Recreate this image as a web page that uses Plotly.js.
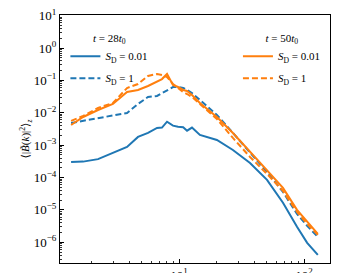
<!DOCTYPE html>
<html>
<head>
<meta charset="utf-8">
<script src="https://cdn.plot.ly/plotly-3.0.1.min.js"></script>
<style>html,body{margin:0;padding:0;background:#fff;}#chart{width:342px;height:273px;}</style>
</head>
<body>
<div id="chart"></div>
<script>
// wavenumbers k
const k = [1.37, 1.71, 2.25, 2.96, 3.84, 4.70, 5.65, 6.67, 7.31, 8.02, 8.95, 9.82, 10.8, 11.6, 12.7, 14.7, 20.1, 27.0, 37.0, 50.6, 67.9, 87.9, 106, 129];
// t = 28 t0, S_D = 0.01
const blueSolid = [3.0e-4, 3.1e-4, 3.7e-4, 5.7e-4, 8.8e-4, 1.8e-3, 2.4e-3, 3.4e-3, 3.5e-3, 5.3e-3, 4.0e-3, 3.7e-3, 3.6e-3, 2.8e-3, 3.5e-3, 2.07e-3, 1.45e-3, 7.1e-4, 2.8e-4, 8.5e-5, 1.66e-5, 3.0e-6, 9.6e-7, 4.1e-7];
// t = 28 t0, S_D = 1
const blueDashed = [0.00484, 0.00559, 0.00691, 0.00796, 0.00986, 0.0187, 0.0307, 0.0330, 0.0408, 0.0506, 0.0625, 0.0625, 0.0583, 0.0506, 0.0408, 0.0248, 0.00855, 0.00238, 5.74e-4, 1.49e-4, 3.59e-5, 7.53e-6, 3.21e-6, 1.47e-6];
// t = 50 t0, S_D = 0.01
const orangeSolid = [0.0042, 0.00741, 0.0122, 0.0187, 0.0438, 0.0506, 0.0671, 0.0893, 0.110, 0.158, 0.0721, 0.0625, 0.0506, 0.0471, 0.0354, 0.0201, 0.00741, 0.00238, 6.17e-4, 1.72e-4, 4.77e-5, 1.0e-5, 4.27e-6, 1.82e-6];
// t = 50 t0, S_D = 1
const orangeDashed = [0.00559, 0.00796, 0.0141, 0.0201, 0.0583, 0.0774, 0.137, 0.158, 0.147, 0.127, 0.0774, 0.0583, 0.0438, 0.0380, 0.0307, 0.0187, 0.00644, 0.00167, 4.32e-4, 1.29e-4, 3.86e-5, 8.67e-6, 3.70e-6, 1.69e-6];

// tick labels
const xTickVals = [10, 100];
const xTickText = ['10<sup>1</sup>', '10<sup>2</sup>'];
const yTickVals = [1e-6, 1e-5, 1e-4, 1e-3, 1e-2, 1e-1, 1, 10];
const yTickText = ['10<sup>−6</sup>', '10<sup>−5</sup>', '10<sup>−4</sup>', '10<sup>−3</sup>', '10<sup>−2</sup>', '10<sup>−1</sup>', '10<sup>0</sup>', '10<sup>1</sup>'];

const legendNames = ['<i>S</i><sub>D</sub> = 0.01', '<i>S</i><sub>D</sub> = 1'];
const legendTitles = ['<i>t</i> = 28<i>t</i><sub>0</sub>', '<i>t</i> = 50<i>t</i><sub>0</sub>'];

const BLUE = '#1f77b4', ORANGE = '#ff7f0e';
const FONT = 'Liberation Serif, DejaVu Serif, serif';

const traces = [
  {x: k, y: blueSolid, mode: 'lines', name: legendNames[0], legend: 'legend', legendgroup: 'a', line: {color: BLUE, width: 2}},
  {x: k, y: blueDashed, mode: 'lines', name: legendNames[1], legend: 'legend', legendgroup: 'b', line: {color: BLUE, width: 2, dash: '6px,3px'}},
  {x: k, y: orangeSolid, mode: 'lines', name: legendNames[0], legend: 'legend2', legendgroup: 'c', line: {color: ORANGE, width: 2}},
  {x: k, y: orangeDashed, mode: 'lines', name: legendNames[1], legend: 'legend2', legendgroup: 'd', line: {color: ORANGE, width: 2, dash: '6px,3px'}}
];

const axisCommon = {
  type: 'log', showgrid: false, zeroline: false,
  showline: true, linecolor: '#000', linewidth: 1, mirror: true,
  ticks: 'inside', ticklen: 4, tickwidth: 1, tickcolor: '#000',
  minor: {ticks: 'inside', ticklen: 2, tickwidth: 0.8, tickcolor: '#000', showgrid: false, dtick: 'D1'},
  tickfont: {family: FONT, size: 13, color: '#000'}
};

const legendCommon = {
  yanchor: 'top', bgcolor: 'rgba(0,0,0,0)',
  font: {family: FONT, size: 11}, tracegroupgap: 3, itemwidth: 30
};

const layout = {
  width: 342, height: 273,
  margin: {l: 60, r: 12, t: 15, b: 10},
  paper_bgcolor: '#fff', plot_bgcolor: '#fff',
  font: {family: FONT, size: 11, color: '#000'},
  xaxis: Object.assign({}, axisCommon, {range: [0.048, 2.208], tickvals: xTickVals, ticktext: xTickText}),
  yaxis: Object.assign({}, axisCommon, {range: [-6.64, 1.02], tickvals: yTickVals, ticktext: yTickText,
    title: {text: '⟨|<i>B̃</i>(<i>k</i>)|<sup>2</sup>⟩<sub><i>z</i></sub>', font: {family: FONT, size: 11}, standoff: 0}}),
  legend: Object.assign({}, legendCommon, {x: 0.02, y: 0.95, xanchor: 'left',
    title: {text: legendTitles[0], side: 'top center', font: {family: FONT, size: 11}}}),
  legend2: Object.assign({}, legendCommon, {x: 0.985, y: 0.95, xanchor: 'right',
    title: {text: legendTitles[1], side: 'top center', font: {family: FONT, size: 11}}}),
  showlegend: true
};

Plotly.newPlot('chart', traces, layout, {staticPlot: true, displayModeBar: false});
</script>
</body>
</html>
